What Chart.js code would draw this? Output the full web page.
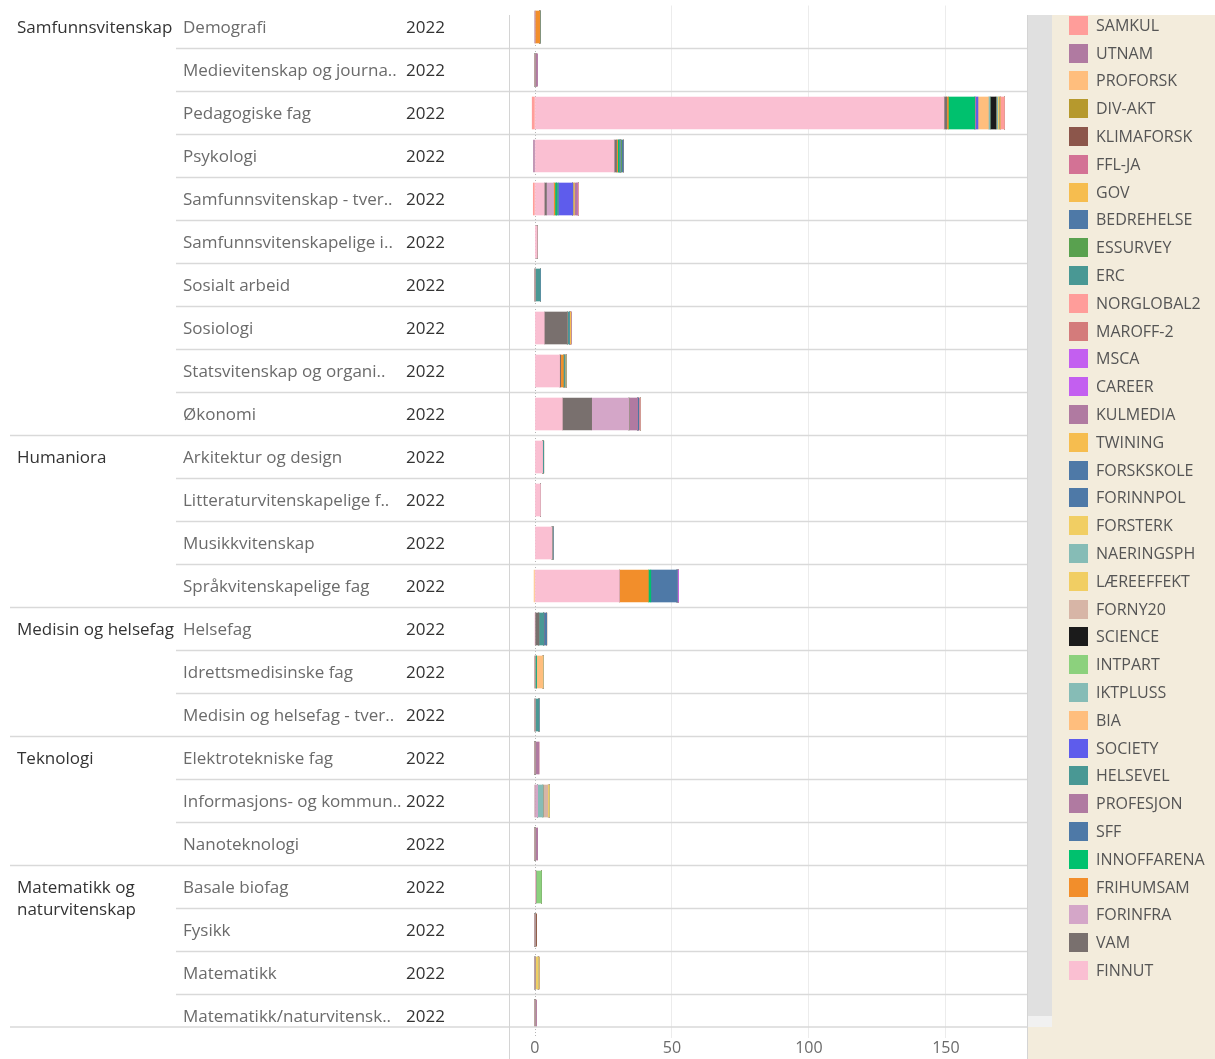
<!DOCTYPE html>
<html>
<head>
<meta charset="utf-8">
<script src="https://cdn.jsdelivr.net/npm/chart.js@4/dist/chart.umd.min.js"></script>
<style>
  body { margin: 0; background: #fff; font-family: "Open Sans", sans-serif; }
  #wrap { position: relative; width: 1215px; height: 1059px; overflow: hidden; }
  #mycanvas { position: absolute; left: 0; top: 0; }
  #legendbox { position: absolute; left: 1028px; top: 15px; width: 187px; height: 1044px; background: #f3ecdc; }
  #scroll1 { position: absolute; left: 1028px; top: 15px; width: 24px; height: 1001px; background: #e0e0e0; }
  #scroll2 { position: absolute; left: 1028px; top: 1016px; width: 24px; height: 11px; background: #f1f1f1; }
  .item { position: absolute; left: 1069px; height: 19px; }
  .sw { position: absolute; left: 0; top: 0; width: 19px; height: 19px; }
  .lt { position: absolute; left: 27px; top: -3px; font-size: 16px; line-height: 25px; color: #555; white-space: nowrap; }
</style>
</head>
<body>
<div id="wrap">
  <canvas id="mycanvas" width="1215" height="1059"></canvas>
  <div id="legendbox"></div>
  <div id="scroll1"></div>
  <div id="scroll2"></div>
</div>
<script>
// rows (fagfelt) and their groups
var rowLabels = ["Demografi", "Medievitenskap og journa..", "Pedagogiske fag", "Psykologi",
	"Samfunnsvitenskap - tver..", "Samfunnsvitenskapelige i..", "Sosialt arbeid", "Sosiologi",
	"Statsvitenskap og organi..", "Økonomi", "Arkitektur og design", "Litteraturvitenskapelige f..",
	"Musikkvitenskap", "Språkvitenskapelige fag", "Helsefag", "Idrettsmedisinske fag",
	"Medisin og helsefag - tver..", "Elektrotekniske fag", "Informasjons- og kommun..", "Nanoteknologi",
	"Basale biofag", "Fysikk", "Matematikk", "Matematikk/naturvitensk.."];
var groupNames = [["Samfunnsvitenskap"], ["Humaniora"], ["Medisin og helsefag"], ["Teknologi"], ["Matematikk og", "naturvitenskap"]];
var groupStarts = [0, 10, 14, 17, 20];
var yearLabel = "2022";
var xTicks = [0, 50, 100, 150];

// series values per row (same order as rowLabels)
var finnut     = [0, 0, 149.3, 28.9, 3.4, 0.8, 0, 3.4, 9.0, 10.0, 2.8, 2.0, 6.2, 30.8, 0, 0, 0, 0, 0, 0, 0.3, 0, 0, 0];
var vam        = [0, 0, 1.0, 0.9, 0.8, 0, 0, 8.4, 0.4, 10.7, 0, 0, 0, 0, 1.4, 0, 0, 0, 0, 0, 0, 0, 0, 0];
var forinfra   = [0, 0, 0, 0, 2.6, 0, 0, 0, 0, 13.6, 0, 0, 0, 0, 0, 0, 0, 0, 1.0, 0, 0, 0, 0, 0];
var frihumsam  = [1.8, 0, 0.6, 0.4, 0.5, 0, 0, 0, 1.0, 0, 0, 0, 0, 10.6, 0, 0, 0, 0, 0, 0, 0, 0, 0, 0];
var innoffarena= [0, 0, 9.6, 0.4, 0.6, 0, 0, 0, 0, 0, 0, 0, 0, 0.9, 0, 0.5, 0, 0, 0, 0, 0, 0, 0, 0];
var sff        = [0, 0, 0, 0, 0, 0, 0, 0, 0, 0, 0, 0, 0, 9.6, 0, 0, 0, 0, 0, 0, 0, 0, 0, 0];
var profesjon  = [0, 0, 0.4, 0, 0, 0, 0, 0, 0, 3.2, 0, 0, 0, 0, 0, 0, 0, 0, 0, 0, 0, 0, 0, 0];
var helsevel   = [0, 0, 0, 0.5, 0.7, 0, 2.0, 0.8, 0.5, 0, 0, 0, 0.4, 0, 1.8, 0, 1.5, 0, 0, 0, 0, 0, 0, 0];
var society    = [0, 0, 0.8, 0, 5.2, 0, 0, 0, 0, 0, 0, 0, 0, 0, 0, 0, 0, 0, 0, 0, 0, 0, 0, 0];
var bia        = [0, 0, 3.8, 0, 0, 0, 0, 0, 0, 0, 0, 0, 0, 0, 0, 2.5, 0, 0, 0, 0, 0, 0, 0, 0];
var iktpluss   = [0, 0, 0.6, 0, 0, 0, 0, 0, 0, 0, 0, 0, 0, 0, 0, 0, 0, 0, 1.9, 0, 0, 0, 0, 0];
var intpart    = [0, 0, 0, 0, 0, 0, 0, 0, 0, 0, 0, 0, 0, 0, 0, 0, 0, 0, 0, 0, 2.1, 0, 0, 0];
var science    = [0, 0, 2.2, 0, 0, 0, 0, 0, 0, 0, 0, 0, 0, 0, 0, 0, 0, 0, 0, 0, 0, 0, 0, 0];
var forny20    = [0, 0, 0, 0, 0, 0, 0, 0, 0, 0, 0, 0, 0, 0, 0, 0, 0, 0, 1.8, 0, 0, 0, 0, 0];
var laereeffekt= [0, 0, 0, 0, 0, 0, 0, 0, 0, 0, 0, 0, 0, 0, 0, 0, 0, 0, 0.5, 0, 0, 0, 1.2, 0];
var naeringsph = [0, 0, 0.6, 0, 0, 0, 0, 0, 0, 0, 0, 0, 0, 0, 0, 0, 0, 0, 0, 0, 0, 0, 0, 0];
var forsterk   = [0, 0, 0.5, 0, 0, 0, 0, 0, 0.5, 0, 0, 0, 0, 0, 0, 0, 0, 0, 0, 0, 0, 0, 0, 0];
var forinnpol  = [0, 0, 0, 0, 0, 0, 0, 0, 0, 0.4, 0, 0, 0, 0, 0, 0, 0, 0, 0, 0, 0, 0, 0, 0];
var forskskole = [0, 0, 0, 0, 0, 0, 0, 0, 0, 0, 0, 0, 0, 0, 0, 0, 0, 0, 0, 0, 0, 0, 0, 0];
var twining    = [0, 0, 0.5, 0, 0.6, 0, 0, 0.5, 0, 0, 0, 0, 0, 0, 0, 0, 0, 0, 0, 0, 0, 0, 0, 0];
var kulmedia   = [0, 0.7, 0, 0, 1.0, 0, 0, 0, 0, 0, 0, 0, 0, 0, 0, 0, 0, 0, 0, 0, 0, 0, 0, 0];
var career     = [0, 0, 0, 0, 0, 0, 0, 0, 0, 0, 0, 0, 0, 0, 0, 0, 0, 0, 0, 0, 0, 0, 0, 0];
var msca       = [0, 0, 0, 0, 0, 0, 0, 0, 0, 0, 0, 0, 0, 0.5, 0, 0, 0, 0, 0, 0, 0, 0, 0, 0];
var maroff2    = [0, 0, 0, 0, 0, 0, 0, 0, 0, 0, 0, 0, 0, 0, 0, 0, 0, 0, 0, 0, 0, 0, 0, 0];
var norglobal2 = [0, 0, 1.5, 0, 0.5, 0, 0, 0, 0, 0.6, 0, 0, 0, 0, 0, 0, 0, 0, 0, 0, 0, 0, 0, 0];
var erc        = [0, 0, 0, 0, 0, 0, 0, 0, 0, 0, 0.4, 0, 0, 0, 0, 0, 0, 0, 0, 0, 0, 0, 0, 0];
var essurvey   = [0, 0, 0, 0.5, 0, 0, 0, 0, 0, 0, 0, 0, 0, 0, 0, 0, 0, 0, 0, 0, 0, 0, 0, 0];
var bedrehelse = [0, 0, 0, 0.7, 0, 0, 0, 0, 0, 0, 0, 0, 0, 0, 1.1, 0, 0, 0, 0, 0, 0, 0, 0, 0];
var gov        = [0, 0, 0, 0, 0, 0, 0, 0, 0, 0, 0, 0, 0, 0, 0, 0, 0, 0, 0, 0, 0, 0, 0, 0];
var ffl_ja     = [0, 0, 0, 0, 0, 0, 0, 0, 0, 0, 0, 0, 0, 0, 0, 0, 0, 0, 0, 0, 0, 0, 0, 0];
var klimaforsk = [0, 0, 0, 0, 0, 0, 0, 0, 0, 0, 0, 0, 0, 0, 0, 0, 0, 0, 0, 0, 0, 0.6, 0, 0];
var div_akt    = [0, 0, 0, 0, 0, 0, 0, 0, 0, 0, 0, 0, 0, 0, 0, 0, 0, 0, 0, 0, 0, 0, 0.3, 0];
var proforsk   = [0, 0, 0, 0, 0, 0, 0, 0, 0, 0, 0, 0, 0, -0.3, 0, 0, 0, 0, 0, 0, 0, 0, 0, 0];
var utnam      = [0, 0, 0, -0.5, 0, 0, 0, 0, 0, 0, 0, 0, 0, 0, 0, 0, 0, 1.5, 0, 1.0, 0, 0, 0, 0.6];
var samkul     = [0, 0, -1.0, 0, -0.6, 0, 0, 0, 0, 0, 0, 0, 0, 0, 0, 0, 0, 0, 0, 0, 0, 0, 0, 0];

// stack order (first = closest to zero); legend shows it reversed
var seriesNames = ["FINNUT", "VAM", "FORINFRA", "FRIHUMSAM", "INNOFFARENA", "SFF", "PROFESJON", "HELSEVEL",
	"SOCIETY", "BIA", "IKTPLUSS", "INTPART", "SCIENCE", "FORNY20", "LÆREEFFEKT", "NAERINGSPH", "FORSTERK",
	"FORINNPOL", "FORSKSKOLE", "TWINING", "KULMEDIA", "CAREER", "MSCA", "MAROFF-2", "NORGLOBAL2", "ERC",
	"ESSURVEY", "BEDREHELSE", "GOV", "FFL-JA", "KLIMAFORSK", "DIV-AKT", "PROFORSK", "UTNAM", "SAMKUL"];
var seriesValues = [finnut, vam, forinfra, frihumsam, innoffarena, sff, profesjon, helsevel,
	society, bia, iktpluss, intpart, science, forny20, laereeffekt, naeringsph, forsterk,
	forinnpol, forskskole, twining, kulmedia, career, msca, maroff2, norglobal2, erc,
	essurvey, bedrehelse, gov, ffl_ja, klimaforsk, div_akt, proforsk, utnam, samkul];
var seriesColors = ["#fabfd2", "#79706e", "#d4a6c8", "#f28e2b", "#00c16e", "#4e79a7", "#b07aa1", "#499894",
	"#5e5cec", "#ffbe7d", "#86bcb6", "#8cd17d", "#1b1b1b", "#d7b5a6", "#f1ce63", "#86bcb6", "#f1ce63",
	"#4e79a7", "#4e79a7", "#f6bd4f", "#b07aa1", "#c35ff0", "#c35ff0", "#d47b7b", "#ff9d9a", "#499894",
	"#59a14f", "#4e79a7", "#f6bd4f", "#d37295", "#8c564b", "#b6992d", "#ffbe7d", "#b07aa1", "#ff9d9a"];

var FONT = '"Open Sans", sans-serif';
var CUT_Y = 1027; // view is scrolled, last row is cut here

var datasets = [];
for (var i = 0; i < seriesNames.length; i++) {
	datasets.push({
		label: seriesNames[i],
		data: seriesValues[i],
		backgroundColor: seriesColors[i],
		borderWidth: 0,
		barThickness: 32,
		clip: {left: 10, top: 10, right: 10, bottom: -10.5}
	});
}

// left header table, row separators, zero line
var tablePlugin = {
	id: 'tablePlugin',
	beforeDraw: function(chart) {
		var c = chart.ctx;
		c.save();
		c.fillStyle = '#fff';
		c.fillRect(0, 0, chart.width, chart.height);
		c.restore();
	},
	beforeDatasetsDraw: function(chart) {
		var c = chart.ctx, x = chart.scales.x, a = chart.chartArea;
		c.save();
		// zero line
		c.strokeStyle = '#b5b5b5';
		c.lineWidth = 1;
		c.setLineDash([1, 2]);
		var x0 = Math.round(x.getPixelForValue(0)) + 0.5;
		c.beginPath(); c.moveTo(x0, 15); c.lineTo(x0, a.bottom); c.stroke();
		c.setLineDash([]);
		c.restore();
	},
	afterDraw: function(chart) {
		var c = chart.ctx, y = chart.scales.y, a = chart.chartArea;
		c.save();
		// row separators
		c.strokeStyle = '#d9d9d9';
		c.lineWidth = 1.5;
		for (var i = 0; i < rowLabels.length - 1; i++) {
			var yy = (y.getPixelForValue(i) + y.getPixelForValue(i + 1)) / 2;
			var x1 = groupStarts.indexOf(i + 1) >= 0 ? 10 : 176;
			c.beginPath(); c.moveTo(x1, yy); c.lineTo(a.right, yy); c.stroke();
		}
		c.beginPath(); c.moveTo(10, CUT_Y); c.lineTo(a.right, CUT_Y); c.stroke();
		// pane borders
		c.lineWidth = 1;
		c.strokeStyle = '#d4d4d4';
		c.beginPath(); c.moveTo(a.left - 0.5, 15); c.lineTo(a.left - 0.5, chart.height); c.stroke();
		c.beginPath(); c.moveTo(a.right + 0.5, 15); c.lineTo(a.right + 0.5, chart.height); c.stroke();
		// labels
		c.font = '17px ' + FONT;
		c.textBaseline = 'middle';
		for (var r = 0; r < rowLabels.length; r++) {
			var py = y.getPixelForValue(r) + 1;
			c.fillStyle = '#6b6b6b';
			c.fillText(rowLabels[r], 183, py);
			c.fillStyle = '#333';
			c.fillText(yearLabel, 406, py);
		}
		c.fillStyle = '#333';
		for (var g = 0; g < groupNames.length; g++) {
			var gy = y.getPixelForValue(groupStarts[g]) + 1;
			for (var l = 0; l < groupNames[g].length; l++) {
				c.fillText(groupNames[g][l], 17, gy + l * 22);
			}
		}
		c.restore();
	}
};

var ctx = document.getElementById('mycanvas');
var BarGraph = new Chart(ctx, {
	type: 'bar',
	data: { labels: rowLabels, datasets: datasets },
	options: {
		indexAxis: 'y',
		responsive: false,
		animation: false,
		devicePixelRatio: 1,
		layout: { padding: { left: 510, right: 188, top: 5.5, bottom: 0 } },
		plugins: { legend: { display: false }, tooltip: { enabled: false } },
		scales: {
			x: {
				stacked: true,
				min: -9.1,
				max: 179.6,
				afterFit: function(s) { s.height = 21.5; },
				afterBuildTicks: function(s) { s.ticks = xTicks.map(function(v) { return {value: v}; }); },
				border: { display: false },
				grid: {
					drawTicks: false,
					color: function(context) { return context.tick && context.tick.value === 0 ? 'rgba(0,0,0,0)' : '#ececec'; }
				},
				ticks: { padding: 1, color: '#6b6b6b', font: { family: FONT, size: 16 } }
			},
			y: {
				stacked: true,
				display: false
			}
		}
	},
	plugins: [tablePlugin]
});

// legend (top item = last in stack)
var wrap = document.getElementById('wrap');
for (var k = seriesNames.length - 1, n = 0; k >= 0; k--, n++) {
	var it = document.createElement('div');
	it.className = 'item';
	it.style.top = (15.7 + n * 27.8) + 'px';
	it.innerHTML = '<div class="sw" style="background:' + seriesColors[k] + '"></div><div class="lt">' + seriesNames[k] + '</div>';
	wrap.appendChild(it);
}
</script>
</body>
</html>
